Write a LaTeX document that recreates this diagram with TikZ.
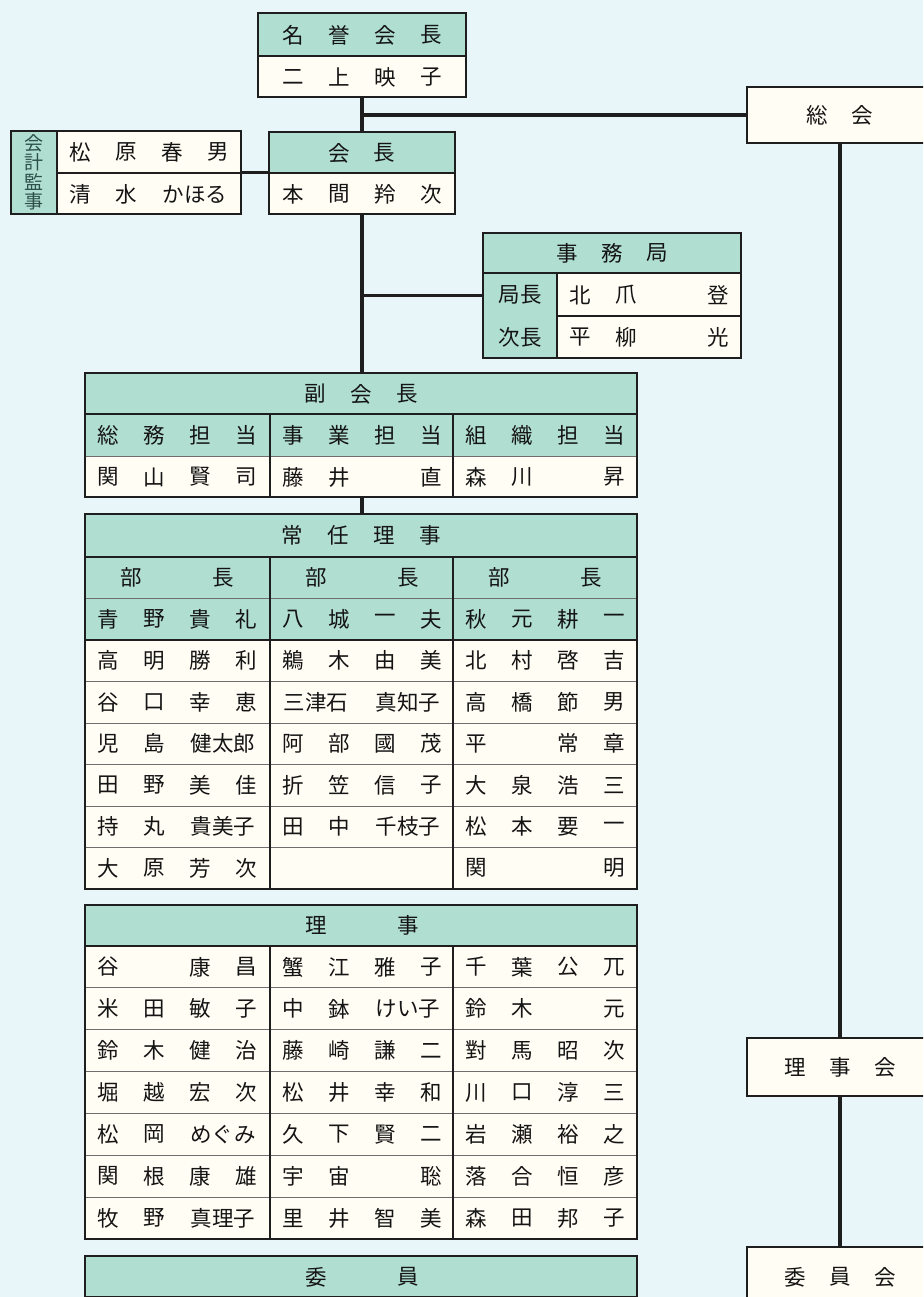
\documentclass[tikz,border=0pt]{standalone}
\usepackage{fontspec}
\newfontfamily\jp{Noto Sans CJK JP}
\usetikzlibrary{fit}
\definecolor{bgc}{RGB}{232,246,250}
\definecolor{hdc}{RGB}{176,222,208}
\definecolor{bdc}{RGB}{255,253,244}
\definecolor{lnc}{RGB}{30,30,30}
\definecolor{thc}{RGB}{110,110,110}
\definecolor{lbl}{RGB}{45,80,72}
\definecolor{txc}{RGB}{20,20,20}
\newcounter{tn}
\tikzset{
  txt/.style={inner sep=0pt, font=\jp\fontsize{21.5}{21.5}\selectfont, text=txc, anchor=center},
  frame/.style={draw=lnc, line width=2.5pt},
  thickln/.style={draw=lnc, line width=2.3pt},
  midln/.style={draw=lnc, line width=1.5pt},
  thinln/.style={draw=thc, line width=0.9pt},
  conn/.style={draw=lnc, line width=3.4pt},
  area/.style={inner sep=0pt, outer sep=0pt},
}
\newcommand\tx[3]{\stepcounter{tn}\node[txt] (t\arabic{tn}) at (#1,#2) {#3};}
\newcommand\slt[4]{\if\relax\detokenize{#4}\relax\else\pgfmathsetmacro\myx{#1+23+(#3-1)*46}\tx{\myx}{#2}{#4}\fi}
\newcommand\nm[6]{\slt{#1}{#2}{1}{#3}\slt{#1}{#2}{2}{#4}\slt{#1}{#2}{3}{#5}\slt{#1}{#2}{4}{#6}}
\newcommand\nmA[5]{\slt{#1}{#2}{1}{#3}\slt{#1}{#2}{2}{#4}\slt{#1}{#2}{3.5}{#5}}
\newcommand\nmB[4]{\slt{#1}{#2}{1.5}{#3}\slt{#1}{#2}{3.5}{#4}}
\newcommand\spread[5]{\foreach \c [count=\i] in {#5} {\pgfmathsetmacro\myx{#1+(\i-(#4+1)/2)*#3}\tx{\myx}{#2}{\c}}}
\newcommand\areanode[5]{\path (#2,#3) coordinate (#1-a) (#4,#5) coordinate (#1-b); \node[area, fit=(#1-a)(#1-b)] (#1) {};}
\begin{document}
\begin{tikzpicture}[x=1pt,y=-1pt]
\useasboundingbox (0,0) rectangle (923,1297);
\fill[bgc] (0,0) rectangle (923,1297);
\clip (0,0) rectangle (923,1297);
% named areas
\areanode{meiyo}{258}{13}{466}{97}
\areanode{kaicho}{269}{132}{455}{214}
\areanode{kaikei}{11}{131}{241}{214}
\areanode{jimu}{483}{233}{741}{358}
\areanode{fuku}{85}{373}{637}{497}
\areanode{jonin}{85}{514}{637}{889}
\areanode{riji}{85}{905}{637}{1239}
\areanode{iin}{85}{1256}{637}{1340}
\areanode{sokai}{747}{87}{933}{143}
\areanode{rijikai}{747}{1038}{933}{1096}
\areanode{iinkai}{747}{1247}{933}{1330}
% connectors
\draw[conn] (meiyo.south) -- (kaicho.north);
\draw[conn] (sokai.west) -- (sokai.west -| meiyo.south);
\draw[conn] (kaikei.east) -- (kaikei.east -| kaicho.west);
\draw[conn] (kaicho.south) -- (kaicho.south |- fuku.north);
\draw[conn] (jimu.west) -- (jimu.west -| kaicho.south);
\draw[conn] (fuku.south -| kaicho.south) -- (jonin.north -| kaicho.south);
\draw[conn] (sokai.south) -- (rijikai.north);
\draw[conn] (rijikai.south) -- (iinkai.north);
% 名誉会長
\fill[hdc] (258,13) rectangle (466,56);
\fill[bdc] (258,56) rectangle (466,97);
\draw[midln] (258,56) -- (466,56);
\draw[frame] (meiyo-a) rectangle (meiyo-b);
\spread{362}{35}{46}{4}{名,誉,会,長}
\spread{362}{77}{46}{4}{二,上,映,子}
% 会長
\fill[hdc] (269,132) rectangle (455,173);
\fill[bdc] (269,173) rectangle (455,214);
\draw[midln] (269,173) -- (455,173);
\draw[frame] (kaicho-a) rectangle (kaicho-b);
\spread{362}{153}{45}{2}{会,長}
\spread{362}{194}{46}{4}{本,間,羚,次}
% 会計監事
\fill[hdc] (11,131) rectangle (57,214);
\fill[bdc] (57,131) rectangle (241,214);
\draw[midln] (57,173) -- (241,173);
\draw[thickln] (57,131) -- (57,214);
\draw[frame] (kaikei-a) rectangle (kaikei-b);
\node[inner sep=0pt, align=center, text=lbl, font=\jp\fontsize{19}{19.5}\selectfont] (kklabel) at (34,172.5) {会\\計\\監\\事};
\nm{57}{152}{松}{原}{春}{男}
\nmA{57}{194}{清}{水}{かほる}
% 事務局
\fill[hdc] (483,233) rectangle (741,273);
\fill[hdc] (483,273) rectangle (557,358);
\fill[bdc] (557,273) rectangle (741,358);
\draw[midln] (557,316) -- (741,316);
\draw[thickln] (483,273) -- (741,273);
\draw[thickln] (557,273) -- (557,358);
\draw[frame] (jimu-a) rectangle (jimu-b);
\spread{612}{253}{45}{3}{事,務,局}
\tx{520}{295}{局長}
\tx{520}{337}{次長}
\nm{557}{295}{北}{爪}{}{登}
\nm{557}{337}{平}{柳}{}{光}
% 副会長
\fill[hdc] (85,373) rectangle (637,456);
\fill[bdc] (85,456) rectangle (637,497);
\draw[thinln] (85,456) -- (637,456);
\draw[thickln] (85,414) -- (637,414);
\draw[thickln] (270,414) -- (270,497);
\draw[thickln] (453,414) -- (453,497);
\draw[frame] (fuku-a) rectangle (fuku-b);
\spread{361}{394}{46}{3}{副,会,長}
\nm{85}{435}{総}{務}{担}{当}
\nm{270}{435}{事}{業}{担}{当}
\nm{453}{435}{組}{織}{担}{当}
\nm{85}{477}{関}{山}{賢}{司}
\nm{270}{477}{藤}{井}{}{直}
\nm{453}{477}{森}{川}{}{昇}
% 常任理事
\fill[hdc] (85,514) rectangle (637,640);
\fill[bdc] (85,640) rectangle (637,889);
\foreach \yy in {598.5,681.5,723,764.5,806,847.5} {\draw[thinln] (85,\yy) -- (637,\yy);}
\draw[thickln] (85,557) -- (637,557);
\draw[thickln] (85,640) -- (637,640);
\draw[thickln] (270,557) -- (270,889);
\draw[thickln] (453,557) -- (453,889);
\draw[frame] (jonin-a) rectangle (jonin-b);
\spread{361}{535.5}{46}{4}{常,任,理,事}
\nmB{85}{577.75}{部}{長}
\nmB{270}{577.75}{部}{長}
\nmB{453}{577.75}{部}{長}
\nm{85}{619.25}{青}{野}{貴}{礼}
\nm{270}{619.25}{八}{城}{一}{夫}
\nm{453}{619.25}{秋}{元}{耕}{一}
\nm{85}{660.75}{高}{明}{勝}{利}
\nm{270}{660.75}{鵜}{木}{由}{美}
\nm{453}{660.75}{北}{村}{啓}{吉}
\nm{85}{702.25}{谷}{口}{幸}{恵}
\nmB{270}{702.25}{三津石}{真知子}
\nm{453}{702.25}{高}{橋}{節}{男}
\nmA{85}{743.75}{児}{島}{健太郎}
\nm{270}{743.75}{阿}{部}{國}{茂}
\nm{453}{743.75}{平}{}{常}{章}
\nm{85}{785.25}{田}{野}{美}{佳}
\nm{270}{785.25}{折}{笠}{信}{子}
\nm{453}{785.25}{大}{泉}{浩}{三}
\nmA{85}{826.75}{持}{丸}{貴美子}
\nmA{270}{826.75}{田}{中}{千枝子}
\nm{453}{826.75}{松}{本}{要}{一}
\nm{85}{868.25}{大}{原}{芳}{次}
\nm{453}{868.25}{関}{}{}{明}
% 理事
\fill[hdc] (85,905) rectangle (637,946);
\fill[bdc] (85,946) rectangle (637,1239);
\foreach \yy in {987.86,1029.71,1071.57,1113.43,1155.29,1197.14} {\draw[thinln] (85,\yy) -- (637,\yy);}
\draw[thickln] (85,946) -- (637,946);
\draw[thickln] (270,946) -- (270,1239);
\draw[thickln] (453,946) -- (453,1239);
\draw[frame] (riji-a) rectangle (riji-b);
\spread{362}{925.5}{92}{2}{理,事}
\nm{85}{966.9}{谷}{}{康}{昌}
\nm{270}{966.9}{蟹}{江}{雅}{子}
\nm{453}{966.9}{千}{葉}{公}{兀}
\nm{85}{1008.8}{米}{田}{敏}{子}
\nmA{270}{1008.8}{中}{鉢}{けい子}
\nm{453}{1008.8}{鈴}{木}{}{元}
\nm{85}{1050.6}{鈴}{木}{健}{治}
\nm{270}{1050.6}{藤}{崎}{謙}{二}
\nm{453}{1050.6}{對}{馬}{昭}{次}
\nm{85}{1092.5}{堀}{越}{宏}{次}
\nm{270}{1092.5}{松}{井}{幸}{和}
\nm{453}{1092.5}{川}{口}{淳}{三}
\nmA{85}{1134.4}{松}{岡}{めぐみ}
\nm{270}{1134.4}{久}{下}{賢}{二}
\nm{453}{1134.4}{岩}{瀬}{裕}{之}
\nm{85}{1176.2}{関}{根}{康}{雄}
\nm{270}{1176.2}{宇}{宙}{}{聡}
\nm{453}{1176.2}{落}{合}{恒}{彦}
\nmA{85}{1218.1}{牧}{野}{真理子}
\nm{270}{1218.1}{里}{井}{智}{美}
\nm{453}{1218.1}{森}{田}{邦}{子}
% 委員
\fill[hdc] (85,1256) rectangle (637,1297);
\fill[bdc] (85,1297) rectangle (637,1340);
\draw[thickln] (85,1297) -- (637,1297);
\draw[frame] (iin-a) rectangle (iin-b);
\spread{362}{1277}{92}{2}{委,員}
% right column
\fill[bdc] (sokai-a) rectangle (sokai-b);
\draw[frame] (sokai-a) rectangle (sokai-b);
\spread{840}{115}{45}{2}{総,会}
\fill[bdc] (rijikai-a) rectangle (rijikai-b);
\draw[frame] (rijikai-a) rectangle (rijikai-b);
\spread{840}{1067}{45}{3}{理,事,会}
\fill[bdc] (iinkai-a) rectangle (iinkai-b);
\draw[frame] (iinkai-a) rectangle (iinkai-b);
\spread{840}{1277}{45}{3}{委,員,会}
\end{tikzpicture}
\end{document}
